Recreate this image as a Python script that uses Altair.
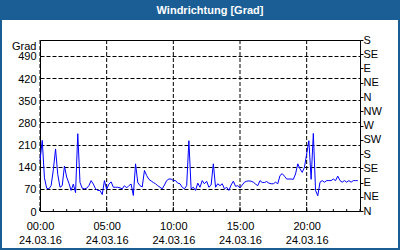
import altair as alt
import pandas as pd

# Wind direction samples, one every 10 minutes from 00:00 on 24.03.16
step_minutes = 10
direction = [
    159, 223, 105, 72, 70, 80, 130, 196, 115, 75,
    80, 142, 107, 88, 65, 85, 58, 244, 90, 72,
    70, 72, 80, 96, 85, 70, 65, 65, 52, 96,
    68, 85, 92, 75, 75, 75, 73, 70, 80, 73,
    80, 85, 49, 149, 90, 80, 76, 128, 112, 100,
    95, 90, 86, 80, 75, 70, 82, 96, 101, 101,
    96, 96, 88, 86, 75, 70, 80, 222, 70, 75,
    65, 88, 75, 96, 86, 94, 75, 82, 149, 75,
    86, 80, 86, 70, 75, 65, 82, 94, 78, 80,
    73, 82, 91, 94, 95, 94, 91, 85, 80, 96,
    90, 90, 93, 88, 86, 86, 91, 86, 112, 118,
    110, 101, 101, 101, 100, 117, 149, 133, 122, 138,
    180, 222, 100, 245, 65, 48, 91, 96, 91, 96,
    96, 96, 101, 96, 110, 96, 91, 96, 91, 96,
    91, 96, 96, 96,
]
hours = [i * step_minutes / 60 for i in range(len(direction))]

left_ticks = [0, 70, 140, 210, 280, 350, 420, 490]
right_ticks = [0, 45, 90, 135, 180, 225, 270, 315, 360, 405, 450, 495, 540]
compass = ["N", "NE", "E", "SE", "S", "SW", "W", "NW"]
major_hours = [0, 5, 10, 15, 20]
minor_hours = list(range(0, 25))
date_label = "24.03.16"
title_text = "Windrichtung [Grad]"
unit_label = "Grad"

df = pd.DataFrame({"h": hours, "v": direction})
minor_df = pd.DataFrame({"h": minor_hours})
major_df = pd.DataFrame({"h": major_hours})
one = pd.DataFrame({"t": [title_text]})

FONT = "Liberation Sans"
BLUE = "#1b5e96"
W, H = 320, 171

xscale = alt.Scale(domain=[0, 24], nice=False, zero=False)
yscale = alt.Scale(domain=[0, 540], nice=False)

compass_js = "[" + ",".join("'%s'" % c for c in compass) + "]"

x_axis = alt.Axis(
    values=major_hours,
    grid=False, tickSize=0, domain=False, labelFlush=False,
    labelExpr="[(datum.value < 10 ? '0' : '') + datum.value + ':00', '%s']" % date_label,
    labelFont=FONT, labelFontSize=11, labelColor="black",
    labelPadding=9, labelLineHeight=14, labelBaseline="top",
    title=None,
)
left_axis = alt.Axis(
    values=left_ticks,
    grid=True, gridColor="black", gridDash=[4, 2], gridWidth=1,
    tickSize=0, domain=False, labelOffset=1, labelFlush=False,
    labelFont=FONT, labelFontSize=11, labelColor="black", labelPadding=4,
    title=unit_label, titleAngle=0, titleX=-4, titleY=9, titleAlign="right",
    titleBaseline="alphabetic", titleFont=FONT, titleFontSize=11,
    titleFontWeight="normal", titleColor="black",
)
right_axis = alt.Axis(
    orient="right", values=right_ticks, grid=False,
    tickSize=3, tickColor="black", domain=False, labelFlush=False,
    labelOverlap=False,
    labelExpr=compass_js + "[(datum.value/45)%8]",
    labelFont=FONT, labelFontSize=11, labelColor="black", labelPadding=0,
    title=None,
)

frame_bar = alt.Chart(one).mark_rect(color=BLUE).encode(
    x=alt.value(-40), x2=alt.value(W + 40), y=alt.value(-40), y2=alt.value(-20)
)
frame_border = alt.Chart(one).mark_rect(
    fill=None, stroke=BLUE, strokeWidth=4, filled=False
).encode(
    x=alt.value(-40), x2=alt.value(W + 40), y=alt.value(-40), y2=alt.value(H + 39)
)
title_mark = alt.Chart(one).mark_text(
    color="white", font=FONT, fontSize=11, fontWeight="bold",
    align="center", baseline="alphabetic",
).encode(text="t:N", x=alt.value(W / 2 + 10), y=alt.value(-26.5))

vgrid = alt.Chart(major_df).mark_rule(
    color="black", strokeWidth=1, strokeDash=[4, 2]
).encode(
    x=alt.X("h:Q", scale=xscale, axis=x_axis),
    y=alt.value(0), y2=alt.value(H),
)
line = alt.Chart(df).mark_line(color="#0000ff", strokeWidth=1).encode(
    x=alt.X("h:Q", scale=xscale, axis=x_axis),
    y=alt.Y("v:Q", scale=yscale, axis=left_axis),
)
right = alt.Chart(df).mark_line(opacity=0).encode(
    x=alt.X("h:Q", scale=xscale, axis=x_axis),
    y=alt.Y("v:Q", scale=yscale, axis=right_axis),
)
minor = alt.Chart(minor_df).mark_rule(color="black", strokeWidth=1).encode(
    x=alt.X("h:Q", scale=xscale, axis=x_axis),
    y=alt.value(H), y2=alt.value(H - 2),
)
major = alt.Chart(major_df).mark_rule(color="black", strokeWidth=1).encode(
    x=alt.X("h:Q", scale=xscale, axis=x_axis),
    y=alt.value(H), y2=alt.value(H - 4),
)

chart = (
    alt.layer(frame_bar, frame_border, title_mark, vgrid, line, right, minor, major)
    .resolve_axis(y="independent")
    .resolve_scale(y="shared")
    .properties(
        width=W, height=H,
        autosize=alt.AutoSizeParams(type="none"),
        padding={"left": 40, "top": 40, "right": 40, "bottom": 39},
        background="white",
    )
    .configure_view(stroke="black", strokeWidth=1)
)

chart.save("out.html", embed_options={"renderer": "svg", "actions": False})
